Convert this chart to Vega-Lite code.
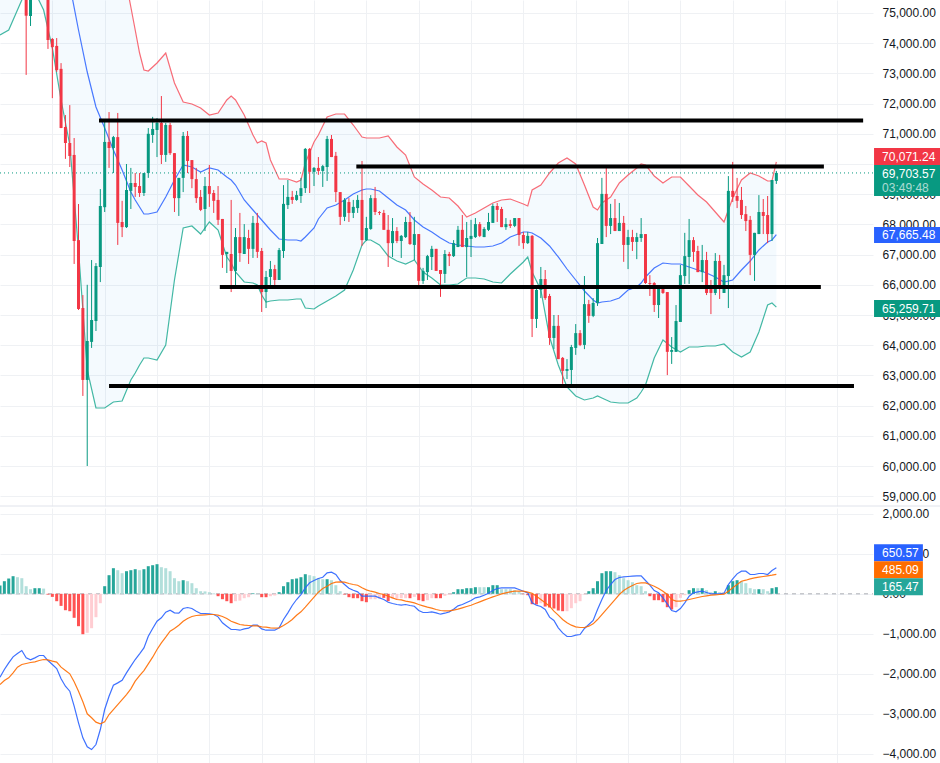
{
  "$schema": "https://vega.github.io/schema/vega-lite/v6.json",
  "padding": {"left": -1, "top": 0, "right": 0, "bottom": 0},
  "spacing": 0,
  "background": "white",
  "config": {
    "view": {"stroke": null},
    "font": "Liberation Sans",
    "axis": {
      "gridColor": "#eff1f4",
      "gridWidth": 1,
      "ticks": false,
      "domain": false,
      "labelColor": "#131722",
      "labelFontSize": 12,
      "labelPadding": 9,
      "labelOverlap": false,
      "labelBound": false,
      "title": null
    }
  },
  "datasets": {
    "candles": [
      {"k":6,"o":76000,"h":76400,"l":72950,"c":74910},
      {"k":7,"o":74900,"h":76000,"l":74570,"c":75800},
      {"k":11,"o":76000,"h":76200,"l":73810,"c":74106},
      {"k":12,"o":74140,"h":74170,"l":72180,"c":73870},
      {"k":13,"o":73910,"h":74170,"l":73050,"c":73110},
      {"k":14,"o":73150,"h":73340,"l":71190,"c":71190},
      {"k":15,"o":71225,"h":71620,"l":70170,"c":70695},
      {"k":16,"o":70695,"h":71950,"l":69900,"c":70265},
      {"k":17,"o":70300,"h":70860,"l":66690,"c":67450},
      {"k":18,"o":67480,"h":68675,"l":65165,"c":65200},
      {"k":19,"o":65230,"h":65660,"l":62320,"c":62850},
      {"k":20,"o":62850,"h":66000,"l":60000,"c":64140},
      {"k":21,"o":64110,"h":66820,"l":63910,"c":64835},
      {"k":22,"o":64800,"h":66720,"l":64470,"c":66620},
      {"k":23,"o":66590,"h":69170,"l":66090,"c":68610},
      {"k":24,"o":68570,"h":71390,"l":68410,"c":70730},
      {"k":25,"o":70730,"h":71720,"l":69870,"c":70530},
      {"k":26,"o":70530,"h":70930,"l":69700,"c":70890},
      {"k":27,"o":70890,"h":71690,"l":67320,"c":68050},
      {"k":28,"o":68080,"h":68780,"l":67580,"c":67910},
      {"k":29,"o":67910,"h":70000,"l":67880,"c":69140},
      {"k":30,"o":69110,"h":69870,"l":68510,"c":69370},
      {"k":31,"o":69370,"h":69700,"l":68910,"c":69240},
      {"k":32,"o":69270,"h":69700,"l":68910,"c":69040},
      {"k":33,"o":69040,"h":69700,"l":68940,"c":69700},
      {"k":34,"o":69700,"h":71190,"l":69540,"c":71000},
      {"k":35,"o":70960,"h":71560,"l":70700,"c":71160},
      {"k":36,"o":71126,"h":71520,"l":70230,"c":71360},
      {"k":37,"o":71360,"h":72250,"l":70000,"c":70300},
      {"k":38,"o":70300,"h":71360,"l":70070,"c":71290},
      {"k":39,"o":71290,"h":71360,"l":70300,"c":70360},
      {"k":40,"o":70360,"h":70360,"l":68410,"c":68870},
      {"k":41,"o":68870,"h":69540,"l":68280,"c":69540},
      {"k":42,"o":69540,"h":71060,"l":69070,"c":70930},
      {"k":43,"o":70930,"h":71090,"l":69700,"c":70100},
      {"k":44,"o":70130,"h":70130,"l":69200,"c":69500},
      {"k":45,"o":69500,"h":69870,"l":68710,"c":68870},
      {"k":46,"o":68910,"h":69140,"l":68440,"c":68480},
      {"k":47,"o":68510,"h":69570,"l":67780,"c":69270},
      {"k":48,"o":69270,"h":69970,"l":68580,"c":69010},
      {"k":49,"o":69040,"h":69140,"l":68380,"c":68780},
      {"k":50,"o":68810,"h":69270,"l":67980,"c":68150},
      {"k":51,"o":68180,"h":68180,"l":66560,"c":66990},
      {"k":52,"o":67020,"h":67090,"l":66390,"c":67090},
      {"k":53,"o":67020,"h":68810,"l":65760,"c":66460},
      {"k":54,"o":66460,"h":67880,"l":65990,"c":67580},
      {"k":55,"o":67580,"h":68380,"l":66760,"c":67050},
      {"k":56,"o":67020,"h":68010,"l":67020,"c":67580},
      {"k":57,"o":67550,"h":67820,"l":66690,"c":67190},
      {"k":58,"o":67190,"h":68280,"l":66890,"c":68050},
      {"k":59,"o":68050,"h":68380,"l":66890,"c":67090},
      {"k":60,"o":67120,"h":67220,"l":65100,"c":65760},
      {"k":61,"o":65760,"h":66460,"l":65230,"c":66260},
      {"k":62,"o":66260,"h":66790,"l":65990,"c":66520},
      {"k":63,"o":66520,"h":66660,"l":65990,"c":66160},
      {"k":64,"o":66160,"h":67220,"l":66160,"c":67150},
      {"k":65,"o":67120,"h":69300,"l":66890,"c":68680},
      {"k":66,"o":68640,"h":69470,"l":68510,"c":68910},
      {"k":67,"o":68910,"h":69110,"l":68680,"c":68810},
      {"k":68,"o":68810,"h":69110,"l":68780,"c":68970},
      {"k":69,"o":68940,"h":69540,"l":68710,"c":69200},
      {"k":70,"o":69200,"h":70530,"l":69040,"c":70500},
      {"k":71,"o":70500,"h":70530,"l":69040,"c":69740},
      {"k":72,"o":69740,"h":69900,"l":69270,"c":69870},
      {"k":73,"o":69870,"h":70230,"l":69640,"c":69770},
      {"k":74,"o":69770,"h":69970,"l":69240,"c":69930},
      {"k":75,"o":69900,"h":70930,"l":69440,"c":70830},
      {"k":76,"o":70830,"h":70960,"l":70230,"c":70230},
      {"k":77,"o":70270,"h":70400,"l":68740,"c":69070},
      {"k":78,"o":69070,"h":69070,"l":67980,"c":68250},
      {"k":79,"o":68250,"h":68870,"l":68110,"c":68810},
      {"k":80,"o":68740,"h":68870,"l":68080,"c":68380},
      {"k":81,"o":68380,"h":68810,"l":68210,"c":68580},
      {"k":82,"o":68540,"h":68970,"l":68380,"c":68810},
      {"k":83,"o":68810,"h":70100,"l":67290,"c":67480},
      {"k":84,"o":67480,"h":68250,"l":67450,"c":67880},
      {"k":85,"o":67850,"h":68970,"l":67820,"c":68870},
      {"k":86,"o":68870,"h":69240,"l":68310,"c":68410},
      {"k":87,"o":68410,"h":68440,"l":68310,"c":68380},
      {"k":88,"o":68380,"h":68480,"l":67820,"c":67820},
      {"k":89,"o":67820,"h":68310,"l":66590,"c":67380},
      {"k":90,"o":67380,"h":68210,"l":66920,"c":67780},
      {"k":91,"o":67780,"h":67910,"l":67380,"c":67450},
      {"k":92,"o":67450,"h":67650,"l":66890,"c":67620},
      {"k":93,"o":67580,"h":68250,"l":67550,"c":68080},
      {"k":94,"o":68080,"h":68410,"l":67320,"c":67350},
      {"k":95,"o":67320,"h":68250,"l":66820,"c":67680},
      {"k":96,"o":67680,"h":67680,"l":65990,"c":66130},
      {"k":97,"o":66130,"h":66560,"l":66030,"c":66460},
      {"k":98,"o":66420,"h":66990,"l":66160,"c":66950},
      {"k":99,"o":66920,"h":67290,"l":66490,"c":67190},
      {"k":100,"o":67190,"h":67190,"l":66460,"c":66460},
      {"k":101,"o":66490,"h":66490,"l":65600,"c":66360},
      {"k":102,"o":66360,"h":67150,"l":66060,"c":67020},
      {"k":103,"o":67020,"h":67090,"l":66620,"c":66950},
      {"k":104,"o":66950,"h":67480,"l":66920,"c":67380},
      {"k":105,"o":67250,"h":67950,"l":67250,"c":67820},
      {"k":106,"o":67820,"h":68310,"l":67250,"c":67250},
      {"k":107,"o":67250,"h":68080,"l":66260,"c":67550},
      {"k":108,"o":67520,"h":68150,"l":66920,"c":67620},
      {"k":109,"o":67580,"h":68210,"l":67550,"c":68010},
      {"k":110,"o":68010,"h":68080,"l":67580,"c":67620},
      {"k":111,"o":67580,"h":67910,"l":67580,"c":67850},
      {"k":112,"o":67820,"h":68380,"l":67780,"c":68080},
      {"k":113,"o":68050,"h":68680,"l":68050,"c":68610},
      {"k":114,"o":68610,"h":68710,"l":68080,"c":68480},
      {"k":115,"o":68510,"h":68580,"l":67910,"c":67910},
      {"k":116,"o":67910,"h":68210,"l":67820,"c":68010},
      {"k":117,"o":68010,"h":68150,"l":67880,"c":67950},
      {"k":118,"o":67950,"h":68210,"l":67910,"c":68210},
      {"k":119,"o":68210,"h":68210,"l":67290,"c":67650},
      {"k":120,"o":67650,"h":67750,"l":67190,"c":67380},
      {"k":121,"o":67380,"h":67750,"l":67350,"c":67620},
      {"k":122,"o":67620,"h":67650,"l":64270,"c":64870},
      {"k":123,"o":64870,"h":65930,"l":64570,"c":65830},
      {"k":124,"o":65830,"h":66590,"l":65560,"c":66190},
      {"k":125,"o":66190,"h":66490,"l":65500,"c":65560},
      {"k":126,"o":65630,"h":65700,"l":64010,"c":64240},
      {"k":127,"o":64240,"h":65000,"l":63870,"c":64640},
      {"k":128,"o":64640,"h":65000,"l":63540,"c":63540},
      {"k":129,"o":63580,"h":63610,"l":62720,"c":63150},
      {"k":130,"o":63150,"h":63540,"l":62880,"c":63210},
      {"k":131,"o":63180,"h":64010,"l":62680,"c":63940},
      {"k":132,"o":63910,"h":64700,"l":63680,"c":64400},
      {"k":133,"o":64400,"h":64500,"l":63970,"c":64010},
      {"k":134,"o":64010,"h":66290,"l":63870,"c":65360},
      {"k":135,"o":65360,"h":65500,"l":64740,"c":64970},
      {"k":136,"o":64970,"h":65560,"l":64930,"c":65400},
      {"k":137,"o":65400,"h":67550,"l":65300,"c":67380},
      {"k":138,"o":67350,"h":69540,"l":67350,"c":69010},
      {"k":139,"o":69010,"h":69870,"l":67580,"c":67950},
      {"k":140,"o":67950,"h":68680,"l":67680,"c":68210},
      {"k":141,"o":68210,"h":68840,"l":67780,"c":67780},
      {"k":142,"o":67780,"h":68710,"l":67780,"c":68050},
      {"k":143,"o":68050,"h":68280,"l":66760,"c":67320},
      {"k":144,"o":67320,"h":67820,"l":66520,"c":67580},
      {"k":145,"o":67580,"h":67820,"l":67120,"c":67420},
      {"k":146,"o":67420,"h":67720,"l":66850,"c":67580},
      {"k":147,"o":67550,"h":68210,"l":67420,"c":67680},
      {"k":148,"o":67680,"h":67680,"l":66030,"c":66060},
      {"k":149,"o":66060,"h":66320,"l":65630,"c":66030},
      {"k":150,"o":66060,"h":66090,"l":65100,"c":65330},
      {"k":151,"o":65330,"h":65890,"l":64900,"c":65890},
      {"k":152,"o":65890,"h":65890,"l":65700,"c":65730},
      {"k":153,"o":65760,"h":65760,"l":63010,"c":63780},
      {"k":154,"o":63780,"h":64270,"l":63380,"c":63840},
      {"k":155,"o":63780,"h":65330,"l":63780,"c":64800},
      {"k":156,"o":64770,"h":66660,"l":64770,"c":66320},
      {"k":157,"o":66290,"h":67720,"l":66030,"c":66950},
      {"k":158,"o":66920,"h":68180,"l":66030,"c":67480},
      {"k":159,"o":67480,"h":67580,"l":66760,"c":67090},
      {"k":160,"o":67120,"h":67290,"l":66420,"c":66420},
      {"k":161,"o":66420,"h":67320,"l":66090,"c":66820},
      {"k":162,"o":66820,"h":67090,"l":65660,"c":65730},
      {"k":163,"o":65860,"h":66160,"l":65030,"c":65730},
      {"k":164,"o":65730,"h":67050,"l":65660,"c":66790},
      {"k":165,"o":66790,"h":66990,"l":65530,"c":65930},
      {"k":166,"o":65730,"h":66660,"l":65730,"c":66320},
      {"k":167,"o":66290,"h":69600,"l":65230,"c":69110},
      {"k":168,"o":69110,"h":70070,"l":68740,"c":68910},
      {"k":169,"o":68940,"h":69540,"l":68540,"c":68780},
      {"k":170,"o":68810,"h":69240,"l":68180,"c":68310},
      {"k":171,"o":68340,"h":68610,"l":67780,"c":68110},
      {"k":172,"o":68150,"h":68280,"l":66320,"c":66990},
      {"k":173,"o":66990,"h":67720,"l":66130,"c":67720},
      {"k":174,"o":67680,"h":68970,"l":67680,"c":68410},
      {"k":175,"o":68410,"h":68840,"l":67680,"c":68280},
      {"k":176,"o":68310,"h":68940,"l":67380,"c":67680},
      {"k":177,"o":67680,"h":69470,"l":67450,"c":69470},
      {"k":178,"o":69440,"h":69770,"l":69340,"c":69703.57}
    ],
    "bands": [
      {"k":0,"u":85363,"m":80397,"b":74271},
      {"k":2,"u":85363,"m":80397,"b":74437},
      {"k":4,"u":85363,"m":80397,"b":75099},
      {"k":6,"u":85363,"m":80397,"b":75761},
      {"k":8,"u":85363,"m":80397,"b":75695},
      {"k":10,"u":85363,"m":79403,"b":75099},
      {"k":12,"u":85363,"m":78741,"b":73841},
      {"k":14,"u":83708,"m":77582,"b":72119},
      {"k":16,"u":82052,"m":75927,"b":70629},
      {"k":18,"u":80397,"m":74437,"b":67153},
      {"k":20,"u":79403,"m":73046,"b":63179},
      {"k":22,"u":78741,"m":71887,"b":61921},
      {"k":24,"u":78410,"m":71192,"b":61921},
      {"k":26,"u":77748,"m":70464,"b":62120},
      {"k":28,"u":76688,"m":69801,"b":62153},
      {"k":30,"u":75198,"m":69073,"b":62848},
      {"k":31,"u":74437,"m":68808,"b":63080},
      {"k":32,"u":73675,"m":68576,"b":63345},
      {"k":33,"u":73112,"m":68344,"b":63577},
      {"k":34,"u":73079,"m":68344,"b":63577},
      {"k":36,"u":73344,"m":68411,"b":63510},
      {"k":38,"u":73675,"m":68907,"b":64007},
      {"k":40,"u":72682,"m":69470,"b":66159},
      {"k":42,"u":72053,"m":69967,"b":67881},
      {"k":44,"u":71987,"m":69901,"b":67947},
      {"k":46,"u":71854,"m":69735,"b":67682},
      {"k":48,"u":71622,"m":69868,"b":68080},
      {"k":50,"u":71689,"m":69801,"b":67815},
      {"k":52,"u":72119,"m":69570,"b":66921},
      {"k":53,"u":72251,"m":69470,"b":66722},
      {"k":54,"u":72119,"m":69305,"b":66424},
      {"k":56,"u":71622,"m":68808,"b":66093},
      {"k":58,"u":70960,"m":68477,"b":66060},
      {"k":59,"u":70695,"m":68311,"b":65994},
      {"k":60,"u":70762,"m":68146,"b":65662},
      {"k":61,"u":70695,"m":67980,"b":65431},
      {"k":62,"u":70132,"m":67815,"b":65464},
      {"k":64,"u":69503,"m":67517,"b":65497},
      {"k":66,"u":69503,"m":67484,"b":65497},
      {"k":68,"u":69404,"m":67484,"b":65530},
      {"k":69,"u":69470,"m":67451,"b":65530},
      {"k":70,"u":70033,"m":67583,"b":65232},
      {"k":72,"u":70728,"m":67881,"b":65199},
      {"k":73,"u":70960,"m":68179,"b":65298},
      {"k":75,"u":71556,"m":68543,"b":65464},
      {"k":77,"u":71655,"m":68642,"b":65629},
      {"k":79,"u":71655,"m":68808,"b":65828},
      {"k":81,"u":71291,"m":69007,"b":66490},
      {"k":83,"u":70894,"m":69139,"b":67318},
      {"k":84,"u":70861,"m":69172,"b":67484},
      {"k":85,"u":70861,"m":69172,"b":67484},
      {"k":87,"u":70861,"m":69106,"b":67318},
      {"k":89,"u":70927,"m":68874,"b":66954},
      {"k":91,"u":70563,"m":68642,"b":66788},
      {"k":93,"u":70298,"m":68477,"b":66689},
      {"k":95,"u":69570,"m":68146,"b":66821},
      {"k":97,"u":69338,"m":67914,"b":66424},
      {"k":99,"u":69139,"m":67748,"b":66225},
      {"k":101,"u":68907,"m":67550,"b":65994},
      {"k":103,"u":68874,"m":67384,"b":65994},
      {"k":105,"u":68609,"m":67318,"b":66027},
      {"k":107,"u":68245,"m":67285,"b":66225},
      {"k":109,"u":68377,"m":67252,"b":66225},
      {"k":111,"u":68543,"m":67252,"b":66192},
      {"k":113,"u":68709,"m":67285,"b":66093},
      {"k":115,"u":68808,"m":67384,"b":66060},
      {"k":117,"u":68841,"m":67583,"b":66358},
      {"k":120,"u":68676,"m":67748,"b":66755},
      {"k":121,"u":68609,"m":67748,"b":66921},
      {"k":122,"u":69139,"m":67715,"b":66424},
      {"k":124,"u":69305,"m":67550,"b":65828},
      {"k":126,"u":69702,"m":67285,"b":64272},
      {"k":128,"u":70033,"m":66921,"b":63345},
      {"k":130,"u":70199,"m":66523,"b":62616},
      {"k":132,"u":70000,"m":66159,"b":62318},
      {"k":134,"u":69305,"m":65795,"b":62186},
      {"k":136,"u":68576,"m":65497,"b":62252},
      {"k":137,"u":68477,"m":65398,"b":62318},
      {"k":138,"u":68709,"m":65431,"b":62252},
      {"k":140,"u":68907,"m":65464,"b":62120},
      {"k":142,"u":69371,"m":65563,"b":62087},
      {"k":144,"u":69636,"m":65828,"b":62087},
      {"k":146,"u":69868,"m":65927,"b":62252},
      {"k":147,"u":70000,"m":66060,"b":62451},
      {"k":148,"u":69967,"m":66258,"b":62682},
      {"k":150,"u":69603,"m":66556,"b":63577},
      {"k":152,"u":69371,"m":66722,"b":64173},
      {"k":154,"u":69570,"m":66689,"b":63941},
      {"k":156,"u":69570,"m":66689,"b":63775},
      {"k":158,"u":69272,"m":66590,"b":63941},
      {"k":160,"u":68974,"m":66490,"b":63941},
      {"k":162,"u":68742,"m":66391,"b":63974},
      {"k":164,"u":68411,"m":66258,"b":63974},
      {"k":166,"u":68080,"m":66093,"b":64040},
      {"k":168,"u":68874,"m":66159,"b":63775},
      {"k":170,"u":69470,"m":66490,"b":63610},
      {"k":172,"u":69702,"m":66788,"b":63775},
      {"k":174,"u":69603,"m":67153,"b":64437},
      {"k":176,"u":69437,"m":67418,"b":65332},
      {"k":177,"u":69437,"m":67484,"b":65398},
      {"k":178,"u":70071.24,"m":67665.48,"b":65259.71}
    ],
    "levels": [
      {"k":22.7,"k2":197.9,"p":71440},
      {"k":81.7,"k2":188.9,"p":69917},
      {"k":50.4,"k2":188.2,"p":65927},
      {"k":25,"k2":195.8,"p":62650}
    ],
    "priceTags": [
      {"s":"upper","k":200.4,"k2":215.6,"y0":70530,"y1":69967,"ty":70248,"label":"70,071.24"},
      {"s":"last","k":200.4,"k2":215.6,"y0":69967,"y1":68940,"ty":69685,"label":"69,703.57"},
      {"s":"mid","k":200.4,"k2":215.6,"y0":67914,"y1":67384,"ty":67650,"label":"67,665.48"},
      {"s":"lower","k":200.4,"k2":215.6,"y0":65497,"y1":64934,"ty":65215,"label":"65,259.71"}
    ],
    "macdTags": [
      {"s":"macd","k":200.4,"k2":211.6,"y0":1240,"y1":815,"ty":1027,"label":"650.57"},
      {"s":"signal","k":200.4,"k2":211.6,"y0":815,"y1":390,"ty":602,"label":"485.09"},
      {"s":"hist","k":200.4,"k2":211.6,"y0":390,"y1":-35,"ty":177,"label":"165.47"}
    ],
    "macd": [
      {"k":0,"h":207,"t":"gd","m":-2085,"s":-2267},
      {"k":1,"h":315,"t":"gd","m":-1893,"s":-2167},
      {"k":2,"h":382,"t":"gd","m":-1727,"s":-2100},
      {"k":3,"h":440,"t":"gd","m":-1577,"s":-1975},
      {"k":4,"h":415,"t":"gl","m":-1493,"s":-1834},
      {"k":5,"h":390,"t":"gl","m":-1418,"s":-1768},
      {"k":6,"h":190,"t":"gl","m":-1601,"s":-1743},
      {"k":7,"h":115,"t":"gl","m":-1651,"s":-1718},
      {"k":8,"h":140,"t":"gd","m":-1601,"s":-1700},
      {"k":9,"h":140,"t":"gd","m":-1543,"s":-1668},
      {"k":10,"h":130,"t":"gl","m":-1543,"s":-1643},
      {"k":11,"h":-20,"t":"rd","m":-1668,"s":-1651},
      {"k":12,"h":-77,"t":"rd","m":-1768,"s":-1684},
      {"k":13,"h":-185,"t":"rd","m":-1868,"s":-1709},
      {"k":14,"h":-302,"t":"rd","m":-2126,"s":-1834},
      {"k":15,"h":-410,"t":"rd","m":-2310,"s":-1917},
      {"k":16,"h":-435,"t":"rd","m":-2435,"s":-2000},
      {"k":17,"h":-600,"t":"rd","m":-2810,"s":-2200},
      {"k":18,"h":-810,"t":"rd","m":-3226,"s":-2434},
      {"k":19,"h":-1010,"t":"rd","m":-3600,"s":-2700},
      {"k":20,"h":-975,"t":"rl","m":-3825,"s":-3000},
      {"k":21,"h":-860,"t":"rl","m":-3893,"s":-3100},
      {"k":22,"h":-585,"t":"rl","m":-3768,"s":-3208},
      {"k":23,"h":-235,"t":"rl","m":-3393,"s":-3250},
      {"k":24,"h":190,"t":"gd","m":-2893,"s":-3200},
      {"k":25,"h":465,"t":"gd","m":-2560,"s":-3018},
      {"k":26,"h":640,"t":"gd","m":-2285,"s":-2893},
      {"k":27,"h":590,"t":"gl","m":-2227,"s":-2768},
      {"k":28,"h":515,"t":"gl","m":-2160,"s":-2643},
      {"k":29,"h":565,"t":"gd","m":-1977,"s":-2518},
      {"k":30,"h":590,"t":"gd","m":-1810,"s":-2376},
      {"k":31,"h":615,"t":"gd","m":-1643,"s":-2184},
      {"k":32,"h":590,"t":"gl","m":-1501,"s":-2043},
      {"k":33,"h":615,"t":"gd","m":-1351,"s":-1918},
      {"k":34,"h":690,"t":"gd","m":-1060,"s":-1751},
      {"k":35,"h":715,"t":"gd","m":-868,"s":-1585},
      {"k":36,"h":740,"t":"gd","m":-685,"s":-1393},
      {"k":37,"h":665,"t":"gl","m":-601,"s":-1226},
      {"k":38,"h":640,"t":"gl","m":-460,"s":-1085},
      {"k":39,"h":565,"t":"gl","m":-410,"s":-935},
      {"k":40,"h":390,"t":"gl","m":-477,"s":-868},
      {"k":41,"h":315,"t":"gl","m":-485,"s":-785},
      {"k":42,"h":340,"t":"gd","m":-368,"s":-685},
      {"k":43,"h":315,"t":"gl","m":-343,"s":-618},
      {"k":44,"h":265,"t":"gl","m":-368,"s":-568},
      {"k":45,"h":140,"t":"gl","m":-435,"s":-543},
      {"k":46,"h":65,"t":"gl","m":-493,"s":-535},
      {"k":47,"h":60,"t":"gl","m":-493,"s":-526},
      {"k":48,"h":40,"t":"gl","m":-502,"s":-518},
      {"k":49,"h":15,"t":"gl","m":-518,"s":-518},
      {"k":50,"h":-60,"t":"rd","m":-576,"s":-535},
      {"k":51,"h":-135,"t":"rd","m":-726,"s":-568},
      {"k":52,"h":-185,"t":"rd","m":-810,"s":-618},
      {"k":53,"h":-235,"t":"rd","m":-893,"s":-685},
      {"k":54,"h":-185,"t":"rl","m":-893,"s":-726},
      {"k":55,"h":-170,"t":"rl","m":-910,"s":-768},
      {"k":56,"h":-110,"t":"rl","m":-876,"s":-785},
      {"k":57,"h":-85,"t":"rl","m":-860,"s":-793},
      {"k":58,"h":15,"t":"gd","m":-785,"s":-801},
      {"k":59,"h":7,"t":"gl","m":-785,"s":-801},
      {"k":60,"h":-85,"t":"rd","m":-876,"s":-826},
      {"k":61,"h":-85,"t":"rd","m":-910,"s":-835},
      {"k":62,"h":-60,"t":"rl","m":-910,"s":-851},
      {"k":63,"h":-43,"t":"rl","m":-910,"s":-859},
      {"k":64,"h":40,"t":"gd","m":-851,"s":-851},
      {"k":65,"h":190,"t":"gd","m":-643,"s":-793},
      {"k":66,"h":290,"t":"gd","m":-476,"s":-726},
      {"k":67,"h":365,"t":"gd","m":-293,"s":-643},
      {"k":68,"h":382,"t":"gd","m":-143,"s":-535},
      {"k":69,"h":415,"t":"gd","m":-18,"s":-451},
      {"k":70,"h":490,"t":"gd","m":149,"s":-335},
      {"k":71,"h":465,"t":"gl","m":274,"s":-210},
      {"k":72,"h":440,"t":"gl","m":332,"s":-85},
      {"k":73,"h":390,"t":"gl","m":382,"s":40},
      {"k":74,"h":365,"t":"gl","m":415,"s":132},
      {"k":75,"h":365,"t":"gd","m":523,"s":190},
      {"k":76,"h":340,"t":"gl","m":540,"s":257},
      {"k":77,"h":215,"t":"gl","m":482,"s":290},
      {"k":78,"h":65,"t":"gl","m":332,"s":299},
      {"k":79,"h":-18,"t":"rd","m":232,"s":290},
      {"k":80,"h":-85,"t":"rd","m":140,"s":257},
      {"k":81,"h":-110,"t":"rd","m":90,"s":232},
      {"k":82,"h":-110,"t":"rd","m":48,"s":215},
      {"k":83,"h":-185,"t":"rd","m":-60,"s":149},
      {"k":84,"h":-210,"t":"rd","m":-60,"s":99},
      {"k":85,"h":-135,"t":"rl","m":-60,"s":65},
      {"k":86,"h":-135,"t":"rl","m":-60,"s":40},
      {"k":87,"h":-118,"t":"rl","m":-101,"s":7},
      {"k":88,"h":-102,"t":"rd","m":-143,"s":-18},
      {"k":89,"h":-185,"t":"rd","m":-210,"s":-60},
      {"k":90,"h":-118,"t":"rl","m":-243,"s":-101},
      {"k":91,"h":-152,"t":"rl","m":-268,"s":-143},
      {"k":92,"h":-110,"t":"rl","m":-285,"s":-151},
      {"k":93,"h":-110,"t":"rl","m":-268,"s":-184},
      {"k":94,"h":-110,"t":"rd","m":-293,"s":-201},
      {"k":95,"h":-77,"t":"rl","m":-310,"s":-226},
      {"k":96,"h":-160,"t":"rd","m":-418,"s":-268},
      {"k":97,"h":-185,"t":"rd","m":-468,"s":-301},
      {"k":98,"h":-160,"t":"rl","m":-468,"s":-334},
      {"k":99,"h":-110,"t":"rl","m":-451,"s":-359},
      {"k":100,"h":-110,"t":"rd","m":-476,"s":-393},
      {"k":101,"h":-110,"t":"rd","m":-510,"s":-418},
      {"k":102,"h":-52,"t":"rl","m":-485,"s":-426},
      {"k":103,"h":-27,"t":"rl","m":-451,"s":-426},
      {"k":104,"h":40,"t":"gd","m":-385,"s":-409},
      {"k":105,"h":115,"t":"gd","m":-301,"s":-384},
      {"k":106,"h":115,"t":"gd","m":-268,"s":-351},
      {"k":107,"h":140,"t":"gd","m":-218,"s":-318},
      {"k":108,"h":140,"t":"gd","m":-168,"s":-285},
      {"k":109,"h":165,"t":"gd","m":-101,"s":-243},
      {"k":110,"h":165,"t":"gl","m":-76,"s":-201},
      {"k":111,"h":165,"t":"gl","m":-35,"s":-159},
      {"k":112,"h":165,"t":"gd","m":15,"s":-118},
      {"k":113,"h":215,"t":"gd","m":82,"s":-76},
      {"k":114,"h":215,"t":"gd","m":132,"s":-43},
      {"k":115,"h":115,"t":"gl","m":149,"s":-1},
      {"k":116,"h":115,"t":"gl","m":149,"s":24},
      {"k":117,"h":115,"t":"gl","m":149,"s":49},
      {"k":118,"h":90,"t":"gl","m":149,"s":65},
      {"k":119,"h":65,"t":"gl","m":107,"s":65},
      {"k":120,"h":-10,"t":"rd","m":65,"s":65},
      {"k":121,"h":-35,"t":"rd","m":24,"s":41},
      {"k":122,"h":-260,"t":"rd","m":-226,"s":15},
      {"k":123,"h":-268,"t":"rd","m":-285,"s":-60},
      {"k":124,"h":-235,"t":"rl","m":-318,"s":-143},
      {"k":125,"h":-318,"t":"rd","m":-393,"s":-226},
      {"k":126,"h":-343,"t":"rd","m":-584,"s":-310},
      {"k":127,"h":-368,"t":"rd","m":-668,"s":-434},
      {"k":128,"h":-418,"t":"rd","m":-851,"s":-534},
      {"k":129,"h":-435,"t":"rd","m":-976,"s":-643},
      {"k":130,"h":-435,"t":"rl","m":-1068,"s":-726},
      {"k":131,"h":-360,"t":"rl","m":-1068,"s":-784},
      {"k":132,"h":-235,"t":"rl","m":-1034,"s":-826},
      {"k":133,"h":-185,"t":"rl","m":-1017,"s":-843},
      {"k":134,"h":-18,"t":"rl","m":-868,"s":-843},
      {"k":135,"h":65,"t":"gd","m":-768,"s":-809},
      {"k":136,"h":140,"t":"gd","m":-668,"s":-751},
      {"k":137,"h":315,"t":"gd","m":-393,"s":-643},
      {"k":138,"h":515,"t":"gd","m":-143,"s":-518},
      {"k":139,"h":565,"t":"gd","m":82,"s":-393},
      {"k":140,"h":565,"t":"gd","m":232,"s":-268},
      {"k":141,"h":540,"t":"gl","m":357,"s":-143},
      {"k":142,"h":465,"t":"gl","m":407,"s":-18},
      {"k":143,"h":390,"t":"gl","m":424,"s":82},
      {"k":144,"h":340,"t":"gl","m":432,"s":149},
      {"k":145,"h":290,"t":"gl","m":440,"s":207},
      {"k":146,"h":215,"t":"gl","m":449,"s":257},
      {"k":147,"h":190,"t":"gl","m":449,"s":274},
      {"k":148,"h":65,"t":"gl","m":332,"s":274},
      {"k":149,"h":-60,"t":"rd","m":215,"s":232},
      {"k":150,"h":-160,"t":"rd","m":82,"s":190},
      {"k":151,"h":-160,"t":"rd","m":24,"s":132},
      {"k":152,"h":-210,"t":"rd","m":-101,"s":65},
      {"k":153,"h":-335,"t":"rd","m":-251,"s":-18},
      {"k":154,"h":-393,"t":"rd","m":-418,"s":-143},
      {"k":155,"h":-335,"t":"rl","m":-451,"s":-184},
      {"k":156,"h":-102,"t":"rl","m":-368,"s":-184},
      {"k":157,"h":-35,"t":"rl","m":-226,"s":-168},
      {"k":158,"h":90,"t":"gd","m":-60,"s":-143},
      {"k":159,"h":140,"t":"gd","m":24,"s":-118},
      {"k":160,"h":140,"t":"gl","m":49,"s":-93},
      {"k":161,"h":140,"t":"gd","m":65,"s":-68},
      {"k":162,"h":90,"t":"gl","m":32,"s":-51},
      {"k":163,"h":40,"t":"gl","m":-1,"s":-35},
      {"k":164,"h":65,"t":"gd","m":-1,"s":-26},
      {"k":165,"h":40,"t":"gl","m":-1,"s":-18},
      {"k":166,"h":32,"t":"gl","m":15,"s":-9},
      {"k":167,"h":215,"t":"gd","m":232,"s":65},
      {"k":168,"h":315,"t":"gd","m":374,"s":149},
      {"k":169,"h":340,"t":"gd","m":499,"s":232},
      {"k":170,"h":315,"t":"gl","m":565,"s":315},
      {"k":171,"h":265,"t":"gl","m":565,"s":340},
      {"k":172,"h":140,"t":"gl","m":482,"s":374},
      {"k":173,"h":115,"t":"gl","m":482,"s":399},
      {"k":174,"h":115,"t":"gd","m":507,"s":415},
      {"k":175,"h":115,"t":"gl","m":507,"s":432},
      {"k":176,"h":65,"t":"gl","m":482,"s":449},
      {"k":177,"h":140,"t":"gd","m":582,"s":465},
      {"k":178,"h":165.47,"t":"gd","m":650.57,"s":485.09}
    ]
  },
  "vconcat": [
    {
      "width": 873,
      "height": 506,
      "resolve": {"axis": {"y": "independent"}},
      "encoding": {
        "x": {
          "field": "k",
          "type": "quantitative",
          "scale": {"domain": [0, 200.16], "nice": false, "zero": false, "padding": 0},
          "axis": {"values": [12,24,36,48,60,72,84,96,108,120,132,144,156,168,180,192], "grid": true, "labels": false}
        }
      },
      "layer": [
        {
          "data": {"name": "bands"},
          "mark": {"type": "area", "color": "#2196f3", "opacity": 0.05, "clip": true},
          "encoding": {
            "y": {
              "field": "u",
              "type": "quantitative",
              "scale": {"domain": [58676, 75430], "nice": false, "zero": false},
              "axis": {
                "orient": "right",
                "format": ",.2f",
                "grid": true,
                "values": [59000,60000,61000,62000,63000,64000,65000,66000,67000,68000,69000,70000,71000,72000,73000,74000,75000]
              }
            },
            "y2": {"field": "b"}
          }
        },
        {
          "data": {"name": "bands"},
          "mark": {"type": "line", "color": "#f7525f", "strokeWidth": 1.2, "opacity": 0.85, "clip": true},
          "encoding": {"y": {"field": "u", "type": "quantitative", "scale": {"domain": [58676, 75430], "nice": false, "zero": false}, "axis": null}}
        },
        {
          "data": {"name": "bands"},
          "mark": {"type": "line", "color": "#2962ff", "strokeWidth": 1.2, "opacity": 0.85, "clip": true},
          "encoding": {"y": {"field": "m", "type": "quantitative", "scale": {"domain": [58676, 75430], "nice": false, "zero": false}, "axis": null}}
        },
        {
          "data": {"name": "bands"},
          "mark": {"type": "line", "color": "#22ab94", "strokeWidth": 1.2, "opacity": 0.85, "clip": true},
          "encoding": {"y": {"field": "b", "type": "quantitative", "scale": {"domain": [58676, 75430], "nice": false, "zero": false}, "axis": null}}
        },
        {
          "data": {"values": [{"k": 0, "k2": 200.16, "p": 69703.57}]},
          "mark": {"type": "rule", "color": "#089981", "strokeWidth": 1, "strokeDash": [1, 3]},
          "encoding": {
            "x2": {"field": "k2"},
            "y": {"field": "p", "type": "quantitative", "scale": {"domain": [58676, 75430], "nice": false, "zero": false}, "axis": null}
          }
        },
        {
          "data": {"name": "candles"},
          "mark": {"type": "rule", "strokeWidth": 1, "clip": true},
          "encoding": {
            "y": {"field": "l", "type": "quantitative", "scale": {"domain": [58676, 75430], "nice": false, "zero": false}, "axis": null},
            "y2": {"field": "h"},
            "color": {"condition": {"test": "datum.c >= datum.o", "value": "#089981"}, "value": "#f23645"}
          }
        },
        {
          "data": {"name": "candles"},
          "mark": {"type": "bar", "size": 3, "clip": true},
          "encoding": {
            "y": {"field": "o", "type": "quantitative", "scale": {"domain": [58676, 75430], "nice": false, "zero": false}, "axis": null},
            "y2": {"field": "c"},
            "color": {"condition": {"test": "datum.c >= datum.o", "value": "#089981"}, "value": "#f23645"}
          }
        },
        {
          "data": {"name": "levels"},
          "mark": {"type": "rule", "color": "black", "strokeWidth": 4},
          "encoding": {
            "x2": {"field": "k2"},
            "y": {"field": "p", "type": "quantitative", "scale": {"domain": [58676, 75430], "nice": false, "zero": false}, "axis": null}
          }
        },
        {
          "data": {"values": [{"k": 0, "k2": 215.6, "p": 58676}]},
          "mark": {"type": "rule", "color": "#e0e3eb", "strokeWidth": 1, "clip": false},
          "encoding": {
            "x2": {"field": "k2"},
            "y": {"field": "p", "type": "quantitative", "scale": {"domain": [58676, 75430], "nice": false, "zero": false}, "axis": null}
          }
        },
        {
          "data": {"name": "priceTags"},
          "mark": {"type": "rect", "clip": false},
          "encoding": {
            "x2": {"field": "k2"},
            "y": {"field": "y0", "type": "quantitative", "scale": {"domain": [58676, 75430], "nice": false, "zero": false}, "axis": null},
            "y2": {"field": "y1"},
            "color": {
              "field": "s",
              "type": "nominal",
              "legend": null,
              "scale": {"domain": ["upper", "last", "mid", "lower"], "range": ["#f23645", "#089981", "#2962ff", "#089981"]}
            }
          }
        },
        {
          "data": {"name": "priceTags"},
          "mark": {"type": "text", "align": "left", "baseline": "middle", "dx": 8, "color": "white", "fontSize": 12, "clip": false},
          "encoding": {
            "y": {"field": "ty", "type": "quantitative", "scale": {"domain": [58676, 75430], "nice": false, "zero": false}, "axis": null},
            "text": {"field": "label"}
          }
        },
        {
          "data": {"values": [{"k": 200.4, "ty": 69205, "label": "03:49:48"}]},
          "mark": {"type": "text", "align": "left", "baseline": "middle", "dx": 8, "color": "white", "opacity": 0.65, "fontSize": 12, "clip": false},
          "encoding": {
            "y": {"field": "ty", "type": "quantitative", "scale": {"domain": [58676, 75430], "nice": false, "zero": false}, "axis": null},
            "text": {"field": "label"}
          }
        }
      ]
    },
    {
      "width": 873,
      "height": 257,
      "resolve": {"axis": {"y": "independent"}, "scale": {"color": "independent"}},
      "encoding": {
        "x": {
          "field": "k",
          "type": "quantitative",
          "scale": {"domain": [0, 200.16], "nice": false, "zero": false, "padding": 0},
          "axis": {"values": [12,24,36,48,60,72,84,96,108,120,132,144,156,168,180,192], "grid": true, "labels": false}
        }
      },
      "layer": [
        {
          "data": {"values": [{"k": 0, "k2": 200.16, "v": 0}]},
          "mark": {"type": "rule", "color": "#787b86", "opacity": 0.6, "strokeWidth": 1, "strokeDash": [4, 4]},
          "encoding": {
            "x2": {"field": "k2"},
            "y": {
              "field": "v",
              "type": "quantitative",
              "scale": {"domain": [-4280, 2145], "nice": false, "zero": false},
              "axis": {
                "orient": "right",
                "format": ",.2f",
                "grid": true,
                "values": [-4000, -3000, -2000, -1000, 0, 1000, 2000]
              }
            }
          }
        },
        {
          "data": {"name": "macd"},
          "mark": {"type": "bar", "size": 3, "clip": true},
          "encoding": {
            "y": {"field": "h", "type": "quantitative", "scale": {"domain": [-4280, 2145], "nice": false, "zero": false}, "axis": null},
            "color": {
              "field": "t",
              "type": "nominal",
              "legend": null,
              "scale": {"domain": ["gd", "gl", "rd", "rl"], "range": ["#26a69a", "#b2dfdb", "#ff5252", "#ffcdd2"]}
            }
          }
        },
        {
          "data": {"name": "macd"},
          "mark": {"type": "line", "color": "#2962ff", "strokeWidth": 1.2, "opacity": 0.9, "clip": true},
          "encoding": {"y": {"field": "m", "type": "quantitative", "scale": {"domain": [-4280, 2145], "nice": false, "zero": false}, "axis": null}}
        },
        {
          "data": {"name": "macd"},
          "mark": {"type": "line", "color": "#ff6d00", "strokeWidth": 1.2, "opacity": 0.9, "clip": true},
          "encoding": {"y": {"field": "s", "type": "quantitative", "scale": {"domain": [-4280, 2145], "nice": false, "zero": false}, "axis": null}}
        },
        {
          "data": {"name": "macdTags"},
          "mark": {"type": "rect", "clip": false},
          "encoding": {
            "x2": {"field": "k2"},
            "y": {"field": "y0", "type": "quantitative", "scale": {"domain": [-4280, 2145], "nice": false, "zero": false}, "axis": null},
            "y2": {"field": "y1"},
            "color": {
              "field": "s",
              "type": "nominal",
              "legend": null,
              "scale": {"domain": ["macd", "signal", "hist"], "range": ["#2962ff", "#ff6d00", "#26a69a"]}
            }
          }
        },
        {
          "data": {"name": "macdTags"},
          "mark": {"type": "text", "align": "left", "baseline": "middle", "dx": 8, "color": "white", "fontSize": 12, "clip": false},
          "encoding": {
            "y": {"field": "ty", "type": "quantitative", "scale": {"domain": [-4280, 2145], "nice": false, "zero": false}, "axis": null},
            "text": {"field": "label"}
          }
        }
      ]
    }
  ]
}
